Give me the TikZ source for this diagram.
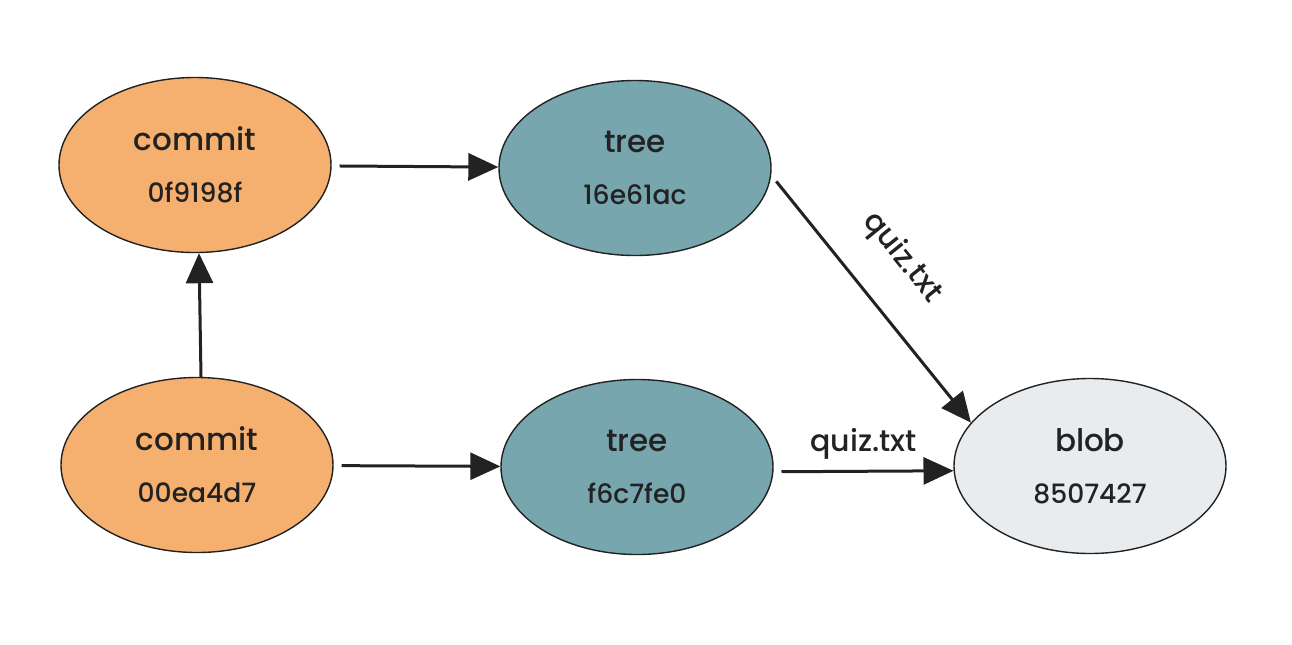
\documentclass[tikz,border=0pt]{standalone}
\usepackage{fontspec}
\setmainfont{Poppins}[UprightFont=* Medium]
\usetikzlibrary{arrows.meta,shapes.geometric}
\definecolor{commitfill}{HTML}{F5B06F}
\definecolor{treefill}{HTML}{77A6AF}
\definecolor{blobfill}{HTML}{E8ECEF}
\definecolor{ink}{HTML}{222222}
\tikzset{
  obj/.style={ellipse, draw=ink, line width=0.7pt, minimum width=136pt, minimum height=87.5pt, inner sep=0pt, align=center, text=ink},
  commitnode/.style={obj, fill=commitfill},
  treenode/.style={obj, fill=treefill},
  blobnode/.style={obj, fill=blobfill},
  link/.style={draw=ink, line width=1.5pt, -{Triangle[length=15pt,width=13.5pt]}, shorten <=4pt},
  lbl/.style={text=ink, font=\fontsize{15}{17}\selectfont, inner sep=0pt},
}
\newcommand{\objtext}[2]{{\fontsize{15.5}{18}\selectfont #1}\\[14pt]{\fontsize{13.3}{15}\selectfont #2}}
\begin{document}
\begin{tikzpicture}[x=0.5pt,y=-0.5pt]
\useasboundingbox (0,0) rectangle (1292,644);
\node[commitnode] (c1) at (195,165) {\objtext{commit}{0f9198f}};
\node[commitnode] (c2) at (197,465) {\objtext{commit}{00ea4d7}};
\node[treenode] (t1) at (635,168) {\objtext{tree}{16e61ac}};
\node[treenode] (t2) at (637,467) {\objtext{tree}{f6c7fe0}};
\node[blobnode] (b) at (1090,466) {\objtext{blob}{8507427}};
\draw[link] (c1) -- (t1);
\draw[link] (c2) -- (t2);
\draw[link, shorten <=0pt] ([xshift=2pt]c2.north) -- ([xshift=2pt]c1.south);
\draw[link] (t1.-3) -- node[lbl, pos=0.46, sloped, above=25pt, anchor=center] {quiz.txt} (b.160);
\draw[link] (t2.-2) -- node[lbl, above=5pt] {quiz.txt} (b.182);
\end{tikzpicture}
\end{document}
